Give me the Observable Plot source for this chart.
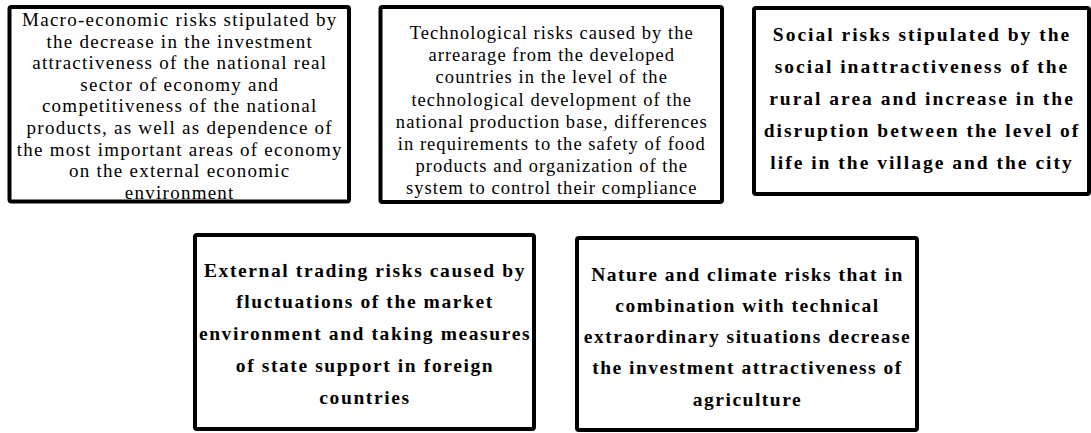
<!DOCTYPE html>
<html>
<head>
<meta charset="utf-8">
<script src="https://cdn.jsdelivr.net/npm/d3@7"></script>
<script src="https://cdn.jsdelivr.net/npm/@observablehq/plot@0.6"></script>
<style>
  html, body { margin: 0; padding: 0; background: #fff; }
  #chart svg { display: block; }
  #chart svg > g:nth-of-type(2) text { letter-spacing: 1.25px; }
  #chart svg > g:nth-of-type(3) text { letter-spacing: 1.05px; }
  #chart svg > g:nth-of-type(4) text { letter-spacing: 2px; }
  #chart svg > g:nth-of-type(5) text { letter-spacing: 1.6px; }
  #chart svg > g:nth-of-type(6) text { letter-spacing: 1.5px; }
</style>
</head>
<body>
<div id="chart"></div>
<script>
// Box labels (line breaks as in the reference)
const labels = [
  "Macro-economic risks stipulated by\nthe decrease in the investment\nattractiveness of the national real\nsector of economy and\ncompetitiveness of the national\nproducts, as well as dependence of\nthe most important areas of economy\non the external economic\nenvironment",
  "Technological risks caused by the\narrearage from the developed\ncountries in the level of the\ntechnological development of the\nnational production base, differences\nin requirements to the safety of food\nproducts and organization of the\nsystem to control their compliance",
  "Social risks stipulated by the\nsocial inattractiveness of the\nrural area and increase in the\ndisruption between the level of\nlife in the village and the city",
  "External trading risks caused by\nfluctuations of the market\nenvironment and taking measures\nof state support in foreign\ncountries",
  "Nature and climate risks that in\ncombination with technical\nextraordinary situations decrease\nthe investment attractiveness of\nagriculture"
];
// Box extents in diagram units
const boxLeft   = [9.5, 380.5, 754, 195, 577];
const boxRight  = [349, 722, 1089, 534, 917];
const boxTop    = [7, 7, 8, 235, 238];
const boxBottom = [201.5, 202, 194, 429, 430];
// Vertical centre of each text block
const textMid   = [105, 109, 94.5, 329.5, 332.5];

const boxes = labels.map((t, i) => ({
  text: t, x1: boxLeft[i], x2: boxRight[i], y1: boxTop[i], y2: boxBottom[i],
  cx: (boxLeft[i] + boxRight[i]) / 2, cy: textMid[i]
}));
const serif = "'Liberation Serif', 'Times New Roman', serif";

const chart = Plot.plot({
  width: 1091,
  height: 433,
  margin: 0,
  style: { fontFamily: serif, background: "#fff" },
  x: { domain: [0, 1091], axis: null },
  y: { domain: [0, 433], axis: null, reverse: true },
  marks: [
    Plot.rect(boxes, { x1: "x1", x2: "x2", y1: "y1", y2: "y2", fill: "white", stroke: "#000", strokeWidth: 4, rx: 2 }),
    Plot.text([boxes[0]], { x: "cx", y: "cy", text: "text", fontFamily: serif, fontSize: 19, lineHeight: 21.6 / 19, fill: "#000" }),
    Plot.text([boxes[1]], { x: "cx", y: "cy", text: "text", fontFamily: serif, fontSize: 18.5, lineHeight: 22.1 / 18.5, fill: "#000" }),
    Plot.text([boxes[2]], { x: "cx", y: "cy", text: "text", fontFamily: serif, fontSize: 19.5, fontWeight: "bold", lineHeight: 32 / 19.5, fill: "#000" }),
    Plot.text([boxes[3]], { x: "cx", y: "cy", text: "text", fontFamily: serif, fontSize: 19.5, fontWeight: "bold", lineHeight: 31.75 / 19.5, fill: "#000" }),
    Plot.text([boxes[4]], { x: "cx", y: "cy", text: "text", fontFamily: serif, fontSize: 19.5, fontWeight: "bold", lineHeight: 31.25 / 19.5, fill: "#000" })
  ]
});
document.getElementById("chart").appendChild(chart);
</script>
</body>
</html>
